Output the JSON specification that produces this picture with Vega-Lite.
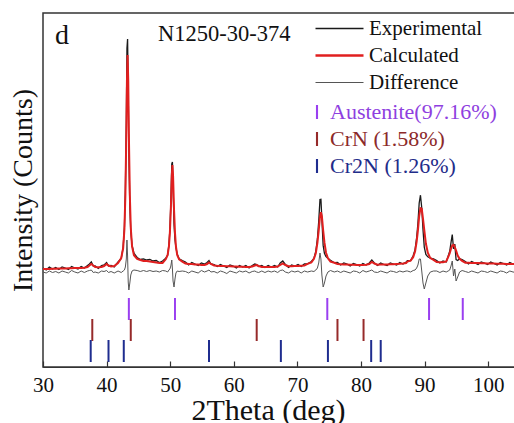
{
  "$schema": "https://vega.github.io/schema/vega-lite/v6.json",
  "autosize": "none",
  "width": 477,
  "height": 354,
  "padding": {"left": 43, "top": 13, "right": 0, "bottom": 56},
  "background": "white",
  "config": {
    "font": "Liberation Serif",
    "view": {"stroke": "#333", "strokeWidth": 1.5},
    "axis": {"grid": false, "labelFont": "Liberation Serif", "titleFont": "Liberation Serif", "titleFontWeight": "normal", "labelColor": "#111", "titleColor": "#111", "domainColor": "#333", "tickColor": "#333"}
  },
  "layer": [
    {
      "data": {"values": [
        {"t":30,"e":99,"c":98,"d":95},{"t":30.5,"e":97,"c":98,"d":94},{"t":31,"e":100,"c":98.1,"d":96},{"t":31.5,"e":98,"c":98.2,"d":94.5},
        {"t":32,"e":99.5,"c":98.3,"d":95.5},{"t":32.5,"e":97.5,"c":98.4,"d":94},{"t":33,"e":100,"c":98.5,"d":96},{"t":33.5,"e":99,"c":98.6,"d":95},
        {"t":34,"e":97.5,"c":98.7,"d":94},{"t":34.5,"e":100.5,"c":98.8,"d":96.5},{"t":35,"e":99,"c":98.9,"d":95},{"t":35.5,"e":98,"c":99,"d":94},
        {"t":36,"e":100.5,"c":99,"d":96},{"t":36.5,"e":99,"c":99.2,"d":94.5},{"t":37,"e":101.5,"c":100,"d":96},{"t":37.3,"e":103,"c":101.5,"d":96.5},
        {"t":37.6,"e":105,"c":103,"d":97},{"t":37.9,"e":101,"c":101.5,"d":94.5},{"t":38.2,"e":101,"c":100,"d":95},{"t":38.7,"e":98.5,"c":99.8,"d":94},
        {"t":39.2,"e":101.5,"c":100,"d":96},{"t":39.6,"e":102,"c":101,"d":95.5},{"t":40,"e":104.5,"c":103,"d":96.5},{"t":40.3,"e":101,"c":101.5,"d":94.5},
        {"t":40.7,"e":101.5,"c":100.5,"d":95.5},{"t":41.2,"e":100,"c":101,"d":94},
        {"t":41.8,"e":105,"c":104,"d":96},{"t":42.3,"e":108.5,"c":109,"d":94.5},{"t":42.6,"e":119.7,"c":118.7,"d":96},{"t":42.8,"e":139.7,"c":137.7,"d":97},
        {"t":42.95,"e":176.4,"c":171.4,"d":100},{"t":43.1,"e":245.2,"c":232.2,"d":108},{"t":43.2,"e":318.7,"c":286.7,"d":127},{"t":43.3,"e":328,"c":312,"d":111},
        {"t":43.4,"e":277.1,"c":287.1,"d":85},{"t":43.5,"e":215,"c":233,"d":77},{"t":43.65,"e":161.6,"c":172.6,"d":84},{"t":43.8,"e":136.3,"c":139.3,"d":92},
        {"t":44.0,"e":121.7,"c":120.7,"d":96},{"t":44.3,"e":113.8,"c":111.8,"d":97},{"t":44.8,"e":109.5,"c":108,"d":96.5},{"t":45.3,"e":107.5,"c":107,"d":95.5},
        {"t":45.8,"e":108,"c":106,"d":96.5},{"t":46.3,"e":107,"c":106,"d":95.5},{"t":46.8,"e":107.5,"c":105.5,"d":96.5},{"t":47.3,"e":106,"c":105,"d":95.5},
        {"t":47.8,"e":106.5,"c":104.5,"d":96},{"t":48.3,"e":104.5,"c":104,"d":95},{"t":48.8,"e":106,"c":104,"d":96.5},
        {"t":49.3,"e":108.7,"c":107.7,"d":96},{"t":49.6,"e":112,"c":112,"d":95},{"t":49.8,"e":122.5,"c":120.5,"d":97},{"t":49.95,"e":137.4,"c":134.4,"d":98},
        {"t":50.1,"e":163.9,"c":157.9,"d":101},{"t":50.25,"e":203.2,"c":191.2,"d":107},{"t":50.35,"e":205,"c":202,"d":98},{"t":50.45,"e":182.2,"c":191.2,"d":86},
        {"t":50.6,"e":142.9,"c":157.9,"d":80},{"t":50.75,"e":127.4,"c":134.4,"d":88},{"t":50.9,"e":119.5,"c":120.5,"d":94},{"t":51.1,"e":113,"c":112,"d":96},
        {"t":51.4,"e":108.2,"c":107.7,"d":95.5},{"t":51.9,"e":106.4,"c":105.4,"d":96},
        {"t":52.4,"e":105,"c":103.5,"d":95.5},{"t":52.9,"e":102,"c":103,"d":94},{"t":53.4,"e":104.5,"c":103,"d":96},{"t":53.9,"e":103,"c":102.5,"d":95},
        {"t":54.4,"e":101.5,"c":102.4,"d":94},{"t":54.9,"e":104,"c":102,"d":96.5},{"t":55.4,"e":103,"c":102,"d":95},{"t":55.8,"e":104.5,"c":103,"d":96},
        {"t":56.1,"e":106.5,"c":104.5,"d":97},{"t":56.4,"e":103,"c":103,"d":95},{"t":56.9,"e":102.5,"c":101.5,"d":95.5},{"t":57.4,"e":100.5,"c":101.2,"d":94},
        {"t":57.9,"e":102.5,"c":101,"d":96},{"t":58.4,"e":101,"c":101,"d":95},{"t":58.9,"e":99.5,"c":100.8,"d":93.5},{"t":59.4,"e":102,"c":100.7,"d":96},
        {"t":59.9,"e":101,"c":100.5,"d":95},{"t":60.4,"e":99,"c":100.4,"d":94},{"t":60.9,"e":101.5,"c":100.3,"d":96},{"t":61.4,"e":100,"c":100.2,"d":95},
        {"t":61.9,"e":101.5,"c":100,"d":96},{"t":62.4,"e":99,"c":100,"d":94},{"t":62.9,"e":101.5,"c":100.5,"d":95.5},{"t":63.3,"e":103,"c":101.5,"d":96},
        {"t":63.6,"e":102.5,"c":102,"d":95},{"t":63.9,"e":100.5,"c":101,"d":94.5},{"t":64.4,"e":101.5,"c":100,"d":96},{"t":64.9,"e":99.5,"c":100,"d":94.5},
        {"t":65.4,"e":101.5,"c":100,"d":96},{"t":65.9,"e":100,"c":100,"d":95},{"t":66.4,"e":101.5,"c":100,"d":96},{"t":66.9,"e":100,"c":100.5,"d":94.5},
        {"t":67.3,"e":104,"c":102,"d":96.5},{"t":67.7,"e":106,"c":103.5,"d":97},{"t":68.1,"e":102.5,"c":102,"d":95},{"t":68.6,"e":99.5,"c":100.7,"d":94},
        {"t":69.1,"e":102,"c":100.8,"d":96},{"t":69.6,"e":101,"c":100.9,"d":95},{"t":70.1,"e":102.5,"c":101,"d":96},{"t":70.6,"e":100.5,"c":101.3,"d":94},
        {"t":71.1,"e":103,"c":101.6,"d":96},
        {"t":71.6,"e":103.1,"c":103.1,"d":95},{"t":72.2,"e":105.5,"c":104.5,"d":96},{"t":72.6,"e":108.6,"c":108.1,"d":95.5},{"t":72.9,"e":115.9,"c":113.9,"d":97},
        {"t":73.15,"e":128.3,"c":124.3,"d":99},{"t":73.35,"e":145.4,"c":136.4,"d":104},{"t":73.55,"e":167.4,"c":150.4,"d":114},{"t":73.7,"e":167.7,"c":154.7,"d":108},
        {"t":73.85,"e":147.5,"c":150.5,"d":92},{"t":74.05,"e":121.6,"c":136.6,"d":80},{"t":74.25,"e":113.6,"c":124.6,"d":84},{"t":74.5,"e":110.3,"c":114.3,"d":91},
        {"t":74.8,"e":108.7,"c":108.7,"d":95},{"t":75.2,"e":106.8,"c":105.3,"d":96.5},{"t":75.8,"e":104.3,"c":104.3,"d":95},
        {"t":76.3,"e":104.5,"c":103,"d":96},{"t":76.8,"e":102,"c":102.8,"d":94.5},{"t":77.3,"e":104,"c":102.6,"d":96},{"t":77.8,"e":103,"c":102.5,"d":95},
        {"t":78.3,"e":101,"c":102.3,"d":94},{"t":78.8,"e":103.5,"c":102.2,"d":96},{"t":79.3,"e":102.5,"c":102,"d":95.5},{"t":79.8,"e":101,"c":102,"d":94},
        {"t":80.3,"e":103.5,"c":102,"d":96.5},{"t":80.8,"e":102,"c":102.2,"d":95},{"t":81.3,"e":104,"c":103,"d":96},{"t":81.7,"e":107,"c":105,"d":97},
        {"t":82.1,"e":104,"c":103.5,"d":95},{"t":82.6,"e":101.5,"c":102.3,"d":94.5},{"t":83.1,"e":104,"c":102.4,"d":96},{"t":83.6,"e":102.5,"c":102.5,"d":95},
        {"t":84.1,"e":101.5,"c":102.6,"d":94},{"t":84.6,"e":104,"c":102.7,"d":96},{"t":85.1,"e":103,"c":102.8,"d":95.5},{"t":85.6,"e":102,"c":103,"d":94.5},
        {"t":86.1,"e":104.5,"c":103.2,"d":96},{"t":86.6,"e":103,"c":103.5,"d":95},{"t":87.1,"e":105,"c":104,"d":96},
        {"t":87.3,"e":106.4,"c":105.4,"d":96},{"t":87.8,"e":106.3,"c":106.3,"d":95},{"t":88.2,"e":111.3,"c":109.8,"d":96.5},{"t":88.5,"e":117.4,"c":115.4,"d":97},
        {"t":88.75,"e":129.3,"c":125.3,"d":99},{"t":88.95,"e":143.7,"c":136.7,"d":102},{"t":89.15,"e":164,"c":151,"d":108},{"t":89.35,"e":171.8,"c":158.8,"d":108},
        {"t":89.55,"e":159.3,"c":158.3,"d":96},{"t":89.75,"e":137.2,"c":148.2,"d":84},{"t":89.95,"e":119.9,"c":136.9,"d":78},{"t":90.2,"e":112.5,"c":123.5,"d":84},
        {"t":90.5,"e":110.2,"c":114.2,"d":91},{"t":90.9,"e":108.9,"c":108.9,"d":95},{"t":91.4,"e":108.1,"c":107.1,"d":96},
        {"t":91.9,"e":106.5,"c":105,"d":96},{"t":92.4,"e":104,"c":104.8,"d":94.5},{"t":92.9,"e":106,"c":104.8,"d":96},{"t":93.4,"e":105,"c":105.5,"d":95},
        {"t":93.7,"e":110.8,"c":109.8,"d":96},{"t":93.95,"e":115.7,"c":113.7,"d":97},{"t":94.15,"e":124.3,"c":118.3,"d":101},{"t":94.35,"e":132.5,"c":121.5,"d":106},
        {"t":94.55,"e":118.1,"c":122.1,"d":91},{"t":94.75,"e":122.9,"c":119.9,"d":98},{"t":94.95,"e":107.3,"c":116.3,"d":86},{"t":95.2,"e":106.5,"c":111.5,"d":90},
        {"t":95.5,"e":108.2,"c":108.2,"d":95},{"t":95.9,"e":107.5,"c":106,"d":96.5},
        {"t":96.4,"e":105.5,"c":104.3,"d":95.5},{"t":96.9,"e":103,"c":104.2,"d":94.5},{"t":97.4,"e":105.5,"c":104,"d":96},{"t":97.9,"e":104,"c":104,"d":95},
        {"t":98.4,"e":102.5,"c":103.9,"d":94},{"t":98.9,"e":105,"c":103.8,"d":96},{"t":99.4,"e":104,"c":103.7,"d":95.5},{"t":99.9,"e":102.5,"c":103.6,"d":94.5},
        {"t":100.4,"e":105,"c":103.5,"d":96},{"t":100.9,"e":103.5,"c":103.4,"d":95},{"t":101.4,"e":102,"c":103.3,"d":94},{"t":101.9,"e":104.5,"c":103.2,"d":96},
        {"t":102.4,"e":103.5,"c":103.2,"d":95.5},{"t":102.9,"e":102,"c":103.1,"d":94},{"t":103.4,"e":104.5,"c":103,"d":96},{"t":103.9,"e":103,"c":103,"d":95},
        {"t":104.4,"e":102,"c":103,"d":94.5},{"t":105,"e":104,"c":103,"d":95.5}
      ]},
      "encoding": {
        "x": {"field": "t", "type": "quantitative", "scale": {"domain": [30, 105], "nice": false},
          "axis": {"values": [30,35,40,45,50,55,60,65,70,75,80,85,90,95,100], "labelExpr": "datum.value % 10 === 0 ? datum.label : ''",
            "tickSize": {"condition": {"test": "datum.value % 10 === 0", "value": -6}, "value": -3.5},
            "tickWidth": 1.2, "labelFontSize": 21, "labelPadding": 13, "labelFlush": false, "labelOverlap": false,
            "title": "2Theta (deg)", "titleFontSize": 30, "titleX": 225, "titlePadding": 0}}
      },
      "layer": [
        {"mark": {"type": "line", "strokeWidth": 1.3, "interpolate": "linear"},
         "encoding": {"y": {"field": "e", "type": "quantitative", "scale": {"domain": [0, 354], "nice": false, "zero": false},
              "axis": {"labels": false, "ticks": false, "domain": false, "title": "Intensity (Counts)", "titleFontSize": 28, "titlePadding": 6}},
            "stroke": {"datum": "Experimental", "type": "nominal",
              "scale": {"domain": ["Experimental", "Calculated", "Difference"], "range": ["#1a1a1a", "#e01f1f", "#555555"]},
              "legend": {"orient": "none", "legendX": 115, "legendY": 5, "title": "N1250-30-374", "titleOrient": "left", "titleAnchor": "start", "titleBaseline": "line-top", "titleLineHeight": 32,
                "titleFont": "Liberation Serif", "titleFontSize": 22.5, "titleFontWeight": "normal", "titleColor": "#111", "titlePadding": 38, "titleLimit": 300,
                "labelFont": "Liberation Serif", "labelFontSize": 21, "labelColor": "#111", "labelOffset": 19, "labelLimit": 300,
                "symbolType": "M-4.8,0H4.8", "symbolSize": 100,
                "symbolStrokeWidth": {"expr": "datum.value === 'Calculated' ? 2.5 : (datum.value === 'Difference' ? 1 : 1.3)"},
                "rowPadding": 5}}}},
        {"mark": {"type": "line", "strokeWidth": 2}, "encoding": {"y": {"field": "c", "type": "quantitative"}, "stroke": {"datum": "Calculated", "type": "nominal"}}},
        {"mark": {"type": "line", "strokeWidth": 1}, "encoding": {"y": {"field": "d", "type": "quantitative"}, "stroke": {"datum": "Difference", "type": "nominal"}}}
      ]
    },
    {
      "data": {"values": [
        {"phase": "Austenite(97.16%)", "t": 43.5}, {"phase": "Austenite(97.16%)", "t": 50.75}, {"phase": "Austenite(97.16%)", "t": 74.7},
        {"phase": "Austenite(97.16%)", "t": 90.7}, {"phase": "Austenite(97.16%)", "t": 96.0},
        {"phase": "CrN (1.58%)", "t": 37.75}, {"phase": "CrN (1.58%)", "t": 43.8}, {"phase": "CrN (1.58%)", "t": 63.6},
        {"phase": "CrN (1.58%)", "t": 76.3}, {"phase": "CrN (1.58%)", "t": 80.4},
        {"phase": "Cr2N (1.26%)", "t": 37.5}, {"phase": "Cr2N (1.26%)", "t": 40.3}, {"phase": "Cr2N (1.26%)", "t": 42.7},
        {"phase": "Cr2N (1.26%)", "t": 56.1}, {"phase": "Cr2N (1.26%)", "t": 67.4}, {"phase": "Cr2N (1.26%)", "t": 74.8},
        {"phase": "Cr2N (1.26%)", "t": 81.6}, {"phase": "Cr2N (1.26%)", "t": 83.1}
      ]},
      "mark": {"type": "tick", "orient": "vertical", "thickness": 2, "size": 22, "opacity": 1},
      "encoding": {
        "x": {"field": "t", "type": "quantitative"},
        "y": {"field": "phase", "type": "nominal", "scale": {"type": "point", "domain": ["Austenite(97.16%)", "CrN (1.58%)", "Cr2N (1.26%)"], "range": [296, 338], "padding": 0}, "axis": null},
        "fill": {"field": "phase", "type": "nominal",
          "scale": {"domain": ["Austenite(97.16%)", "CrN (1.58%)", "Cr2N (1.26%)"], "range": ["#9a3ff0", "#962a2a", "#1f2d8f"]},
          "legend": {"orient": "none", "legendX": 263, "legendY": 88, "title": null,
            "labelFont": "Liberation Serif", "labelFontSize": 22, "labelOffset": 2, "labelLimit": 300,
            "labelColor": {"expr": "datum.value === 'CrN (1.58%)' ? '#8c2a2a' : (datum.value === 'Cr2N (1.26%)' ? '#1f2d8a' : '#8f3fe0')"},
            "symbolType": "M-0.15,-1H0.15V1H-0.15Z", "symbolSize": 196, "symbolStrokeWidth": 0, "symbolOpacity": 1, "rowPadding": 5}}
      }
    },
    {
      "data": {"values": [{"label": "d"}]},
      "mark": {"type": "text", "font": "Liberation Serif", "fontSize": 28, "align": "left", "baseline": "alphabetic", "fill": "#111"},
      "encoding": {
        "x": {"datum": 31.9, "type": "quantitative"},
        "y": {"datum": 323, "type": "quantitative", "scale": {"domain": [0, 354], "nice": false, "zero": false}, "axis": null},
        "text": {"field": "label", "type": "nominal"}
      }
    }
  ],
  "resolve": {"scale": {"y": "independent"}}
}
